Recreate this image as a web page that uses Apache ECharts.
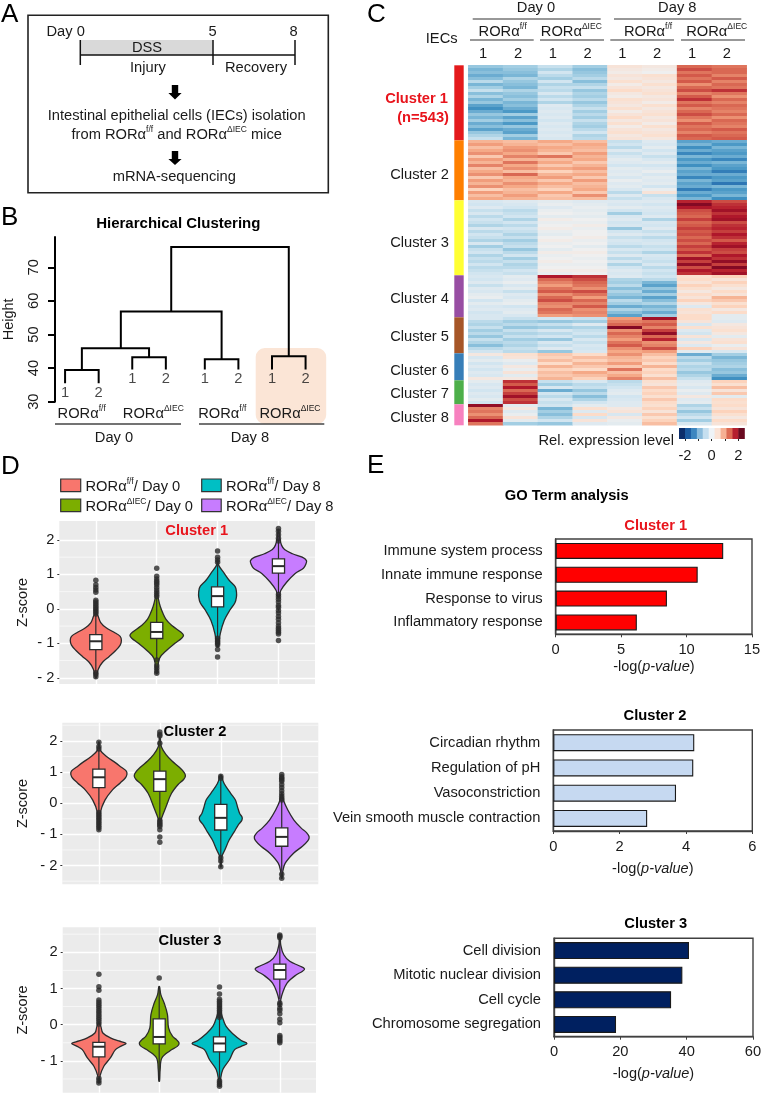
<!DOCTYPE html>
<html><head><meta charset="utf-8">
<style>html,body{margin:0;padding:0;background:#fff}#c{width:762px;height:1094px}</style>
<script src="https://cdn.jsdelivr.net/npm/echarts@6/dist/echarts.min.js"></script>
</head><body><div id="c"></div>
<script>
const FONT='Liberation Sans';
// ---------- Panel B: dendrogram
const yHeightTicks=[30,40,50,60,70];
const leafPos=[0,1,2,3,4.16,5.16,6.16,7.16];
const leafBottom=[35.5,35.5,39.6,39.6,39.6,39.6,39.6,39.6];
const leafNames=['1','2','1','2','1','2','1','2'];
// [xLeft,bottomLeft,xRight,bottomRight,mergeHeight]
const merges=[[0,35.5,1,35.5,39.4],[2,39.6,3,39.6,43.2],[0.5,39.4,2.5,43.2,45.9],[4.16,39.6,5.16,39.6,42.6],
 [1.66,45.9,4.66,42.6,56.8],[6.16,39.6,7.16,39.6,43.5],[3.16,56.8,6.66,43.5,76]];
// ---------- Panel C: heatmap rows (tenths of z-score), read by eye
const sampleLabels=['1','2','1','2','1','2','1','2'];
const cluster1=[[-10,-9,-6,-9,3,2,15,14],[-12,-10,-8,-11,2,1,17,15],[-11,-11,-5,-10,1,0,14,15],[-13,-12,-7,-9,3,4,16,13],[-11,-8,-9,-7,2,3,14,16],
[-7,-10,-5,-11,4,2,16,13],[-12,-11,-8,-8,1,4,12,15],[-9,-12,-6,-6,3,2,15,14],[-6,-8,-7,-10,5,3,17,19],[-11,-10,-4,-8,2,4,13,14],
[-8,-11,-7,-9,1,2,16,12],[-12,-9,-5,-7,4,3,19,15],[-10,-12,-8,-10,3,1,14,13],[-14,-11,-3,-8,2,4,16,15],[-16,-13,-4,-6,4,2,13,14],
[-13,-15,-3,-9,1,3,15,13],[-10,-9,-4,-7,3,4,17,15],[-12,-14,-3,-9,5,2,14,12],[-9,-11,-5,-6,2,3,12,15],[-13,-15,-3,-8,4,1,16,14],
[-11,-10,-4,-9,1,4,14,13],[-14,-13,-3,-7,3,2,15,16],[-10,-14,-4,-5,4,3,13,14],[-8,-9,-3,-8,2,4,16,15],[-6,-12,-4,-7,3,2,15,16]];
const cluster2=[[9,8,10,8,-6,-3,-14,-13],[11,9,8,10,-5,-4,-12,-15],[8,11,10,9,-7,-2,-16,-12],[10,12,9,8,-3,-5,-13,-14],[12,10,7,11,-6,-3,-17,-15],
[7,13,14,9,-4,-6,-12,-13],[11,9,8,10,-2,-4,-15,-17],[9,14,10,7,-3,-2,-13,-12],[13,10,7,9,-5,-5,-16,-14],[8,12,10,11,-2,-3,-12,-15],
[10,8,6,8,-3,-1,-14,-18],[12,15,9,10,-2,-4,-13,-13],[7,10,11,7,-4,-2,-17,-15],[11,9,7,11,-1,-3,-12,-14],[9,12,10,8,-3,-2,-14,-19],
[12,10,8,9,-2,-5,-13,-12],[6,8,6,10,-4,-1,-18,-15],[11,9,10,7,-7,3,-13,-14],[8,11,7,12,-3,-6,-15,-12],[10,9,8,8,-6,-4,-12,-16]];
const cluster3=[[-4,-3,-2,-3,-3,-3,20,17],[-5,-4,-1,-2,-4,-5,24,19],[-3,-5,-3,-1,-2,-3,21,20],[-6,-7,-1,-2,-5,-4,17,22],[-4,-6,0,-1,-9,-5,16,19],
[-7,-5,-2,-2,-4,-3,15,21],[-5,-8,1,0,-3,-8,18,22],[-6,-5,-1,-1,-5,-4,15,17],[-8,-7,0,1,-4,-5,16,19],[-4,-5,1,-1,-10,-3,18,20],
[-7,-6,-1,0,-5,-6,16,18],[-5,-8,-2,0,-3,-4,17,21],[-6,-6,0,1,-6,-7,15,19],[-8,-9,1,-1,-4,-5,17,16],[-4,-7,-1,0,-5,-4,15,20],
[-9,-6,0,-2,-7,-6,18,22],[-6,-10,-2,0,-4,-5,16,18],[-5,-7,1,1,-6,-8,19,17],[-8,-5,-1,0,-3,-4,15,21],[-6,-9,0,-1,-7,-5,22,19],
[-7,-6,1,0,-4,-6,18,23],[-5,-8,-1,-1,-8,-4,23,18],[-7,-7,0,0,-5,-7,17,24],[-6,-5,1,1,-3,-5,21,20],[-5,-6,-1,0,-4,-6,19,22]];
const cluster4=[[-4,-2,21,19,-3,-5,4,6],[-5,-3,15,17,-8,-7,5,3],[-3,-1,13,15,-9,-12,3,6],[-6,-4,11,14,-7,-14,6,4],[-3,-2,14,12,-11,-10,4,2],
[-4,-6,16,17,-8,-13,2,5],[-2,-3,12,14,-10,-9,5,3],[-1,-4,15,11,-12,-14,3,9],[-5,-2,17,15,-7,-11,6,7],[-2,-1,13,13,-9,-8,2,4],
[-4,-5,12,16,-13,-12,-3,6],[-3,-3,15,12,-8,-10,4,2],[-5,-2,14,13,-11,-13,3,5],[-4,-4,11,12,-14,-9,5,-2]];
const cluster5=[[-4,-6,-5,-6,11,22,5,-2],[-7,-9,-10,-9,13,14,3,-3],[-8,-7,-6,-3,15,16,-4,2],[-6,-10,-9,-8,24,13,4,3],[-9,-6,-4,-6,12,18,-3,4],
[-7,-8,-7,-5,15,23,-5,2],[-10,-6,-5,-7,13,15,3,-2],[-6,-9,-10,-4,11,20,-4,3],[-8,-7,-4,-6,14,12,2,4],[-11,-8,-6,-4,16,13,-3,-1],
[-7,-6,-3,-5,12,17,6,3],[-5,-7,-10,-4,10,11,-2,-4]];
const cluster6=[[2,4,7,5,12,8,-13,-9],[-4,3,6,8,9,6,-7,-12],[-2,-1,8,6,8,7,-9,-10],[-5,-3,5,9,11,5,-6,-9],[-3,2,9,7,7,9,-8,-8],
[-5,-1,6,5,14,5,-7,-11],[-3,3,8,10,8,6,-10,-10],[-4,-2,7,8,10,4,-8,-13],[2,2,9,6,13,8,-6,-16]];
const cluster7=[[-2,19,-6,-4,-7,4,-3,6],[-4,16,-9,-7,-6,3,-2,4],[-3,21,-4,-6,-5,7,-4,8],[-5,15,-13,-10,-3,5,-1,3],[-3,18,-5,-7,-2,6,-3,7],
[-4,22,-7,-11,-5,4,2,-2],[-2,17,-4,-8,-4,7,-3,5],[-5,19,-6,-5,-3,5,-2,4]];
const cluster8=[[23,-2,-5,-2,-3,4,-8,5],[13,2,-12,4,2,6,-6,3],[14,-3,-9,-3,3,3,-10,6],[12,-1,-11,5,-4,7,-7,4],[15,3,-8,-4,2,4,-5,2],
[21,-2,-5,3,-1,6,-9,5],[14,-9,-10,-3,-2,8,-4,3]];
const clusterRows=[cluster1,cluster2,cluster3,cluster4,cluster5,cluster6,cluster7,cluster8];
const clusterNames=['Cluster 1','Cluster 2','Cluster 3','Cluster 4','Cluster 5','Cluster 6','Cluster 7','Cluster 8'];
const clusterColors=['#e41a1c','#ff7f00','#ffff33','#984ea3','#a65628','#377eb8','#4daf4a','#f781bf'];
const heatRamp=['#053061','#2166ac','#4393c3','#92c5de','#d1e5f0','#efefef','#fddbc7','#f4a582','#d6604d','#b2182b','#67001f'];
const scaleEdges=[-2.45,-2,-1.56,-1.11,-0.67,-0.22,0.22,0.67,1.11,1.56,2,2.45];
const scaleColors=['#0b2d6b','#1a5aa0','#3d86c0','#8abbdc','#c5dff0','#eef3f7','#fbe3d6','#f6b093','#dd6b53','#b51f2e','#6a0a20'];
// ---------- Panel D: violins. profile = [z, half width]; box = [q1,median,q3]; whisker = [low,high]
const groupColors=['#F8766D','#7CAE00','#00BFC4','#C77CFF'];
const v1Profile=[
 [[-2,0.006],[-1.75,0.04],[-1.55,0.11],[-1.38,0.22],[-1.2,0.33],[-1.05,0.4],[-0.92,0.42],[-0.8,0.4],[-0.68,0.3],[-0.55,0.17],[-0.4,0.08],[-0.2,0.035],[-0.12,0.006]],
 [[-1.88,0.006],[-1.44,0.045],[-1.2,0.165],[-1,0.3],[-0.85,0.41],[-0.77,0.44],[-0.68,0.4],[-0.5,0.26],[-0.3,0.15],[0.06,0.06],[0.35,0.02],[0.5,0.006]],
 [[-1.1,0.011],[-0.72,0.044],[-0.33,0.11],[-0.04,0.2],[0.18,0.285],[0.35,0.31],[0.49,0.31],[0.64,0.29],[0.83,0.19],[1.03,0.11],[1.27,0.016],[1.4,0.006]],
 [[0.35,0.011],[0.54,0.04],[0.78,0.137],[1.03,0.275],[1.18,0.41],[1.3,0.45],[1.4,0.46],[1.5,0.39],[1.6,0.23],[1.72,0.1],[1.85,0.05],[2.05,0.02],[2.3,0.006]]];
const v1Box=[[-1.18,-0.94,-0.75],[-0.86,-0.67,-0.39],[0.06,0.37,0.64],[1.04,1.24,1.45]];
const v1Whisk=[[-1.82,0.1],[-1.45,0.33],[-0.82,1.27],[0.45,2.0]];
const v1Out=[[0.83,0.7,0.62,0.55,0.48,0.25,0.2,0.15,0.1,0.05,0,-0.05,-0.1,-0.15,-1.85,-1.9,-1.97],
 [1.18,0.95,0.87,0.8,0.75,0.7,0.62,0.55,0.48,0.42,0.36,-1.48,-1.65,-1.72,-1.8,-1.87],
 [1.68,1.5,1.42,1.35,-0.85,-0.9,-0.95,-1,-1.05,-1.18,-1.4],
 [2.33,2.25,2.15,2.05,1.97,0.42,0.35,0.28,0.2,0.1,0.05,-0.05,-0.12,-0.22,-0.3,-0.4,-0.5,-0.56,-0.62,-0.68,-0.73,-0.92]];
const v2Profile=[
 [[-0.86,0.006],[-0.28,0.027],[0.1,0.1],[0.42,0.22],[0.65,0.35],[0.8,0.43],[0.92,0.46],[1.03,0.45],[1.15,0.37],[1.3,0.27],[1.48,0.137],[1.7,0.022],[1.96,0.006]],
 [[-0.6,0.006],[-0.49,0.027],[-0.12,0.1],[0.31,0.19],[0.6,0.3],[0.76,0.39],[0.87,0.42],[0.98,0.4],[1.15,0.32],[1.35,0.2],[1.54,0.11],[1.8,0.027],[2.1,0.006]],
 [[-2.04,0.006],[-1.72,0.016],[-1.5,0.066],[-1.18,0.137],[-0.92,0.22],[-0.7,0.285],[-0.55,0.345],[-0.45,0.35],[-0.33,0.31],[-0.12,0.275],[0.1,0.24],[0.31,0.165],[0.63,0.055],[0.9,0.006]],
 [[-2.41,0.006],[-2.2,0.016],[-1.93,0.055],[-1.61,0.19],[-1.38,0.34],[-1.2,0.43],[-1.08,0.45],[-0.95,0.41],[-0.8,0.32],[-0.54,0.2],[-0.22,0.1],[0.1,0.027],[0.3,0.006]]];
const v2Box=[[0.5,0.83,1.09],[0.38,0.77,1.03],[-0.86,-0.47,-0.04],[-1.38,-1.08,-0.79]];
const v2Whisk=[[-0.3,1.72],[-0.5,1.85],[-1.72,0.8],[-2.2,0.1]];
const v2Out=[[1.95,1.82,1.74,-0.3,-0.36,-0.42,-0.48,-0.54,-0.6,-0.66,-0.72,-0.78,-0.85],
 [2.28,2.2,2.15,1.92,-0.55,-0.6,-0.65,-0.7,-0.75,-0.85,-1.08,-1.25],
 [0.86,0.8,-1.75,-1.85,-2.04],
 [0.92,0.85,0.8,0.75,0.7,0.6,0.5,0.4,0.3,0.22,0.15,0.1,-2.28,-2.41]];
const v3Profile=[
 [[-1.61,0.006],[-1.43,0.016],[-1.15,0.082],[-0.92,0.19],[-0.69,0.275],[-0.6,0.36],[-0.52,0.45],[-0.45,0.33],[-0.37,0.2],[-0.23,0.066],[-0.05,0.033],[0.05,0.006]],
 [[-1.56,0.006],[-1.24,0.016],[-0.92,0.044],[-0.72,0.18],[-0.6,0.3],[-0.51,0.33],[-0.42,0.29],[-0.32,0.22],[-0.09,0.155],[0.28,0.137],[0.6,0.082],[0.83,0.027],[1.05,0.006]],
 [[-1.7,0.006],[-1.52,0.016],[-1.24,0.055],[-0.97,0.165],[-0.69,0.25],[-0.6,0.36],[-0.52,0.455],[-0.44,0.36],[-0.28,0.24],[-0.05,0.11],[0.23,0.044],[0.5,0.006]],
 [[0.5,0.006],[0.69,0.016],[0.87,0.044],[1.15,0.12],[1.38,0.275],[1.47,0.37],[1.54,0.41],[1.62,0.33],[1.75,0.165],[1.93,0.066],[2.2,0.016],[2.48,0.006]]];
const v3Box=[[-0.89,-0.61,-0.49],[-0.53,-0.34,0.16],[-0.75,-0.52,-0.34],[1.26,1.51,1.67]];
const v3Whisk=[[-1.4,-0.02],[-1.45,1.05],[-1.5,0.22],[0.7,2.25]];
const v3Out=[[1.39,1.05,0.95,0.68,0.62,0.56,0.5,0.44,0.38,0.32,0.26,0.2,0.14,0.08,0.02,-1.48,-1.55,-1.61],
 [1.29],
 [1.04,0.85,0.7,0.65,0.6,0.55,0.5,0.45,0.4,0.35,0.3,0.25,0.2,-1.55,-1.6,-1.65,-1.7],
 [2.48,2.44,2.4,0.6,0.55,0.45,0.4,0.3,0.15,0.05,-0.3,-0.35,-0.4,-0.45,-0.5]];
const zTicks1=[-2,-1,0,1,2], zTicks2=[-2,-1,0,1,2], zTicks3=[-1,0,1,2];
const zMinor1=[-1.5,-0.5,0.5,1.5], zMinor2=[-2.5,-1.5,-0.5,0.5,1.5,2.5], zMinor3=[-1.5,-0.5,0.5,1.5,2.5];
// ---------- Panel E
const go1Terms=['Immune system process','Innate immune response','Response to virus','Inflammatory response'];
const go1Values=[12.8,10.85,8.5,6.2];
const go2Terms=['Circadian rhythm','Regulation of pH','Vasoconstriction','Vein smooth muscle contraction'];
const go2Values=[4.25,4.22,3.7,2.83];
const go3Terms=['Cell division','Mitotic nuclear division','Cell cycle','Chromosome segregation'];
const go3Values=[40.7,38.7,35.3,18.7];

// ---------- builders
const grid=[],xAxis=[],yAxis=[],series=[],g=[];
const INK='#1a1a1a', FS=14.7;
function T(text,x,y,o){var z=(o&&o.z)||0; var st=Object.assign({text:text,fontFamily:FONT,fontSize:FS,fill:INK,textAlign:'center',textVerticalAlign:'middle'},o||{}); delete st.z;
 return {type:'text',x:x,y:y,z:z,silent:true,style:st};}
const richS={b:{fontSize:FS,fontFamily:FONT,verticalAlign:'bottom',lineHeight:17},s:{fontSize:8.5,fontFamily:FONT,verticalAlign:'top',lineHeight:17}};
function ror(sup,tail){return '{b|RORα}{s|'+sup+'}'+(tail?'{b|'+tail+'}':'');}
function R(sup,x,y,tail,o){return T(ror(sup,tail),x,y,Object.assign({rich:richS},o||{}));}
function L(x1,y1,x2,y2,w,c){return {type:'line',silent:true,shape:{x1:x1,y1:y1,x2:x2,y2:y2},style:{stroke:c||'#111',lineWidth:w||1.5}};}
function Rect(x,y,w,h,fill,extra){return {type:'rect',silent:true,shape:Object.assign({x:x,y:y,width:w,height:h},extra||{}),style:{fill:fill}};}
function Arrow(cx,y0,y1){return {type:'polygon',silent:true,shape:{points:[[cx-3.2,y0],[cx+3.2,y0],[cx+3.2,y0+8],[cx+6.6,y0+8],[cx,y1],[cx-6.6,y0+8],[cx-3.2,y0+8]]},style:{fill:'#000'}};}
function letter(t,x,y){return T(t,x,y,{fontSize:26,textAlign:'left',fill:'#000'});}

// Panel A
g.push(letter('A',1,15));
g.push({type:'rect',silent:true,shape:{x:28,y:15.3,width:300.3,height:177.4},style:{fill:'none',stroke:'#222',lineWidth:1.6}});
g.push(Rect(81,40,131.7,15,'#d9d9d9'));
g.push(L(80.3,55,295,55),L(80.3,40,80.3,65),L(213,40,213,65),L(295,40,295,65));
g.push(T('Day 0',65.7,31.7),T('5',212.7,31.7),T('8',293.7,31.7),T('DSS',147,48.3),T('Injury',148,68),T('Recovery',256,68));
g.push(Arrow(175,85,99.5),Arrow(175,151,165));
g.push(T('Intestinal epithelial cells (IECs) isolation',176.7,116));
g.push(T('{b|from }'+ror('f/f',' and ')+ror('ΔIEC',' mice'),176.7,134,{rich:richS}));
g.push(T('mRNA-sequencing',174.3,176.7));

// Panel B
g.push(letter('B',1,218));
g.push(Rect(255.7,348,70.5,76,'#fbe5d6',{r:9}));
g.push(T('Hierarchical Clustering',178.3,224,{fontWeight:'bold',fontSize:15,fill:'#000'}));
g.push(R('f/f',81.7,412.7),R('ΔIEC',153.3,412.7),R('f/f',222.3,412.7),R('ΔIEC',290,412.7));
g.push(L(55,424,181,424,1.5,'#444'),L(199,424,324.3,424,1.5,'#444'));
g.push(T('Day 0',114,438.3),T('Day 8',250,438.3));
grid.push({left:55,top:237,width:262,height:164.7,outerBoundsMode:'none'});
xAxis.push({gridIndex:0,type:'value',min:-0.3,max:7.5,show:false});
yAxis.push({gridIndex:0,type:'value',min:30,max:79,splitLine:{show:false},
 name:'Height',nameLocation:'middle',nameRotate:90,nameGap:39,nameTextStyle:{fontFamily:FONT,fontSize:14.5,color:INK},
 axisLine:{show:true,onZero:false,lineStyle:{color:'#000',width:2}},
 axisTick:{show:true,length:7,customValues:yHeightTicks,lineStyle:{color:'#000',width:2}},
 axisLabel:{show:true,customValues:yHeightTicks,rotate:90,margin:14,fontFamily:FONT,fontSize:FS,color:INK}});
merges.forEach(function(m){series.push({type:'line',xAxisIndex:0,yAxisIndex:0,symbol:'none',silent:true,animation:false,
 lineStyle:{color:'#000',width:2,join:'miter'},data:[[m[0],m[1]],[m[0],m[4]],[m[2],m[4]],[m[2],m[3]]]});});
series.push({type:'scatter',xAxisIndex:0,yAxisIndex:0,symbolSize:0,silent:true,
 data:leafPos.map(function(x,i){return [x,leafBottom[i],leafNames[i]];}),
 label:{show:true,position:'bottom',distance:2,fontFamily:FONT,fontSize:FS,color:INK,formatter:function(p){return p.value[2];}}});

// Panel C
g.push(letter('C',367,15));
g.push(T('Day 0',536,8),T('Day 8',677.3,8));
g.push(L(472.7,19,600.7,19,1.2,'#333'),L(614,19,741.3,19,1.2,'#333'));
g.push(R('f/f',502.7,31),R('ΔIEC',571.3,31),R('f/f',648,31),R('ΔIEC',716.7,31));
g.push(L(470,40,533.7,40,1.2,'#333'),L(540,40,604,40,1.2,'#333'),L(610.3,40,674,40,1.2,'#333'),L(681,40,745,40,1.2,'#333'));
g.push(T('IECs',441.7,39.3));
const clusterLabelY=[0,174.7,242.7,299.3,336.7,371,394.3,417.7];
clusterNames.forEach(function(n,i){ if(i>0) g.push(T(n,449,clusterLabelY[i],{textAlign:'right'})); });
g.push(T('Cluster 1',448,99.3,{textAlign:'right',fontWeight:'bold',fill:'#e8141c'}),T('(n=543)',449,117.7,{textAlign:'right',fontWeight:'bold',fill:'#e8141c'}));
g.push(T('Rel. expression level',674,441,{textAlign:'right'}));
const allRows=[].concat.apply([],clusterRows);
const heatData=[];
allRows.forEach(function(r,i){r.forEach(function(v,j){heatData.push([j,i,v/10]);});});
grid.push({left:468.3,top:65.3,width:278.4,height:360,outerBoundsMode:'none'});
xAxis.push({gridIndex:1,type:'category',position:'top',data:sampleLabels,axisLine:{show:false},axisTick:{show:false},
 axisLabel:{interval:0,margin:4,fontFamily:FONT,fontSize:FS,color:INK,padding:[0,5,0,0]},splitLine:{show:false}});
yAxis.push({gridIndex:1,type:'category',inverse:true,data:allRows.map(function(r,i){return 'g'+i;}),show:false});
const heatIdx=series.length;
series.push({type:'heatmap',xAxisIndex:1,yAxisIndex:1,data:heatData,silent:true,progressive:0,itemStyle:{borderWidth:0},emphasis:{disabled:true}});
// side bar
grid.push({left:454.3,top:65.3,width:9.4,height:360,outerBoundsMode:'none'});
xAxis.push({gridIndex:2,type:'category',data:['c'],show:false});
yAxis.push({gridIndex:2,type:'value',inverse:true,min:0,max:allRows.length,show:false});
clusterRows.forEach(function(rows,i){series.push({type:'bar',name:clusterNames[i],xAxisIndex:2,yAxisIndex:2,stack:'side',barWidth:'100%',silent:true,
 itemStyle:{color:clusterColors[i]},data:[rows.length]});});
// colour scale
grid.push({left:679,top:428,width:65.3,height:11,outerBoundsMode:'none'});
xAxis.push({gridIndex:3,type:'value',min:-2.45,max:2.45,splitLine:{show:false},axisLine:{show:false},
 axisTick:{show:true,length:2,customValues:[-2,-1,0,1,2],lineStyle:{color:'#222'}},
 axisLabel:{show:true,customValues:[-2,0,2],margin:9,fontFamily:FONT,fontSize:FS,color:INK,hideOverlap:false}});
yAxis.push({gridIndex:3,type:'value',min:0,max:1,show:false});
series.push({type:'custom',xAxisIndex:3,yAxisIndex:3,silent:true,encode:{x:[0,1]},
 data:scaleColors.map(function(c,i){return [scaleEdges[i],scaleEdges[i+1]];}),
 renderItem:function(p,api){var a=api.coord([api.value(0),1]),b=api.coord([api.value(1),0]);
  return {type:'rect',shape:{x:a[0],y:a[1],width:b[0]-a[0]+0.5,height:b[1]-a[1]},style:{fill:scaleColors[p.dataIndex]}};}});

// Panel D
g.push(letter('D',1,466.7));
[[60.7,479,20,12.7,0],[60.7,499,20,12.7,1],[201.7,479,19.5,12.7,2],[201.7,499,19.5,12.7,3]].forEach(function(k){
 g.push({type:'rect',silent:true,shape:{x:k[0],y:k[1],width:k[2],height:k[3]},style:{fill:groupColors[k[4]],stroke:'#333',lineWidth:1.2}});});
g.push(R('f/f',85.5,485.5,'/ Day 0',{textAlign:'left'}),R('ΔIEC',85.5,506,'/ Day 0',{textAlign:'left'}),
 R('f/f',226,485.5,'/ Day 8',{textAlign:'left'}),R('ΔIEC',226,506,'/ Day 8',{textAlign:'left'}));
function violinPanel(gi,box,yr,ticks,minor,profile,boxes,whisk,outs,showX){
 grid.push({left:box[0],top:box[1],width:box[2],height:box[3],show:true,backgroundColor:'#ebebeb',borderWidth:0,outerBoundsMode:'none'});
 xAxis.push({gridIndex:gi,type:'value',min:0.4,max:4.6,axisLine:{show:false},
  axisTick:{show:showX,length:2,customValues:[1,2,3,4],lineStyle:{color:'#444'}},axisLabel:{show:false},
  splitLine:{show:true,lineStyle:{color:'#fff',width:1.4}}});
 yAxis.push({gridIndex:gi,type:'value',min:yr[0],max:yr[1],axisLine:{show:false},
  name:'Z-score',nameLocation:'middle',nameRotate:90,nameGap:box[0]-30,nameTextStyle:{fontFamily:FONT,fontSize:14.5,color:INK},
  axisTick:{show:true,length:2,customValues:ticks,lineStyle:{color:'#333'}},
  axisLabel:{show:true,customValues:ticks,margin:5,fontFamily:FONT,fontSize:FS,color:INK,formatter:function(v){return v<0?'- '+(-v):String(v);}},
  splitLine:{show:true,lineStyle:{color:'#fff',width:1.4}}});
 series.push({type:'custom',xAxisIndex:gi,yAxisIndex:gi,silent:true,z:1,encode:{y:0},data:minor.map(function(v){return [v];}),
  renderItem:function(p,api){var v=api.value(0),a=api.coord([0.4,v]),b=api.coord([4.6,v]);
   return {type:'line',shape:{x1:a[0],y1:a[1],x2:b[0],y2:b[1]},style:{stroke:'#fff',lineWidth:0.6}};}});
 series.push({type:'custom',xAxisIndex:gi,yAxisIndex:gi,silent:true,z:2,encode:{x:0,y:1},
  data:boxes.map(function(b,i){return [i+1,b[1]];}),
  renderItem:function(p,api){
   var i=p.dataIndex,c=i+1,pr=profile[i],b=boxes[i],w=whisk[i],pts=[];
   pr.forEach(function(q){pts.push(api.coord([c+q[1],q[0]]));});
   pr.slice().reverse().forEach(function(q){pts.push(api.coord([c-q[1],q[0]]));});
   var wa=api.coord([c,w[0]]),wb=api.coord([c,w[1]]),tl=api.coord([c-0.1,b[2]]),br=api.coord([c+0.1,b[0]]),ml=api.coord([c-0.1,b[1]]),mr=api.coord([c+0.1,b[1]]);
   return {type:'group',children:[
    {type:'polygon',shape:{points:pts,smooth:0.35},style:{fill:groupColors[i],stroke:'#2b2b2b',lineWidth:1.3}},
    {type:'line',shape:{x1:wa[0],y1:wa[1],x2:wb[0],y2:wb[1]},style:{stroke:'#2b2b2b',lineWidth:1.2}},
    {type:'rect',shape:{x:tl[0],y:tl[1],width:br[0]-tl[0],height:br[1]-tl[1]},style:{fill:'#fff',stroke:'#2b2b2b',lineWidth:1.3}},
    {type:'line',shape:{x1:ml[0],y1:ml[1],x2:mr[0],y2:mr[1]},style:{stroke:'#2b2b2b',lineWidth:2}}]};
  }});
 var pts=[];outs.forEach(function(a,i){a.forEach(function(v){pts.push([i+1,v]);});});
 series.push({type:'scatter',xAxisIndex:gi,yAxisIndex:gi,silent:true,z:3,symbolSize:5.5,itemStyle:{color:'#2b2b2b'},data:pts});
}
violinPanel(4,[59.3,521,255.7,163],[-2.18,2.55],zTicks1,zMinor1,v1Profile,v1Box,v1Whisk,v1Out,true);
violinPanel(5,[62.3,722.7,256,161.6],[-2.6,2.58],zTicks2,zMinor2,v2Profile,v2Box,v2Whisk,v2Out,true);
violinPanel(6,[62.7,927.3,253.3,165.4],[-1.88,2.69],zTicks3,zMinor3,v3Profile,v3Box,v3Whisk,v3Out,false);
g.push(T('Cluster 1',196.7,531,{fontWeight:'bold',fill:'#e8141c',z:50}));
g.push(T('Cluster 2',195,732,{fontWeight:'bold',fill:'#000',z:50}));
g.push(T('Cluster 3',190,941.3,{fontWeight:'bold',fill:'#000',z:50}));

// Panel E
g.push(letter('E',367,465.7));
g.push(T('GO Term analysis',566.7,495.7,{fontWeight:'bold',fill:'#000'}));
g.push(T('Cluster 1',655.7,526,{fontWeight:'bold',fill:'#e8141c'}));
g.push(T('Cluster 2',655,716,{fontWeight:'bold',fill:'#000'}));
g.push(T('Cluster 3',655.7,923.7,{fontWeight:'bold',fill:'#000'}));
function goPanel(gi,box,terms,vals,max,step,color,gap,barH){
 grid.push({left:box[0],top:box[1],width:box[2],height:box[3],show:true,backgroundColor:'#fff',borderColor:'#404040',borderWidth:1.4,outerBoundsMode:'none'});
 xAxis.push({gridIndex:gi,type:'value',min:0,max:max,interval:step,splitLine:{show:false},
  axisLine:{show:true,lineStyle:{color:'#404040',width:1.4}},axisTick:{show:true,length:3,lineStyle:{color:'#404040'}},
  axisLabel:{margin:8,fontFamily:FONT,fontSize:FS,color:INK},
  name:'{a|-log(}{i|p-value}{a|)}',nameLocation:'middle',nameGap:gap,
  nameTextStyle:{rich:{a:{fontFamily:FONT,fontSize:14.5,color:INK},i:{fontFamily:FONT,fontSize:14.5,fontStyle:'italic',color:INK}}}});
 yAxis.push({gridIndex:gi,type:'category',inverse:true,data:terms,axisTick:{show:false},
  axisLine:{show:true,lineStyle:{color:'#404040',width:1.4}},axisLabel:{interval:0,margin:13,fontFamily:FONT,fontSize:FS,color:INK}});
 series.push({type:'bar',xAxisIndex:gi,yAxisIndex:gi,barWidth:barH,silent:true,data:vals,itemStyle:{color:color,borderColor:'#1a1a1a',borderWidth:1.1}});
}
goPanel(7,[555.7,539,196.3,95.3],go1Terms,go1Values,15,5,'#ff0000',25,16);
goPanel(8,[553.3,730,199,101],go2Terms,go2Values,6,2,'#c6d9f1',30,17);
goPanel(9,[554,938.3,199,98.4],go3Terms,go3Values,60,20,'#002060',30,17);

var chart=echarts.init(document.getElementById('c'),null,{renderer:'canvas'});
chart.setOption({animation:false,backgroundColor:'#fff',textStyle:{fontFamily:FONT},grid:grid,xAxis:xAxis,yAxis:yAxis,
 visualMap:{show:false,type:'continuous',seriesIndex:heatIdx,dimension:2,min:-2.6,max:2.6,inRange:{color:heatRamp}},
 graphic:{elements:g},series:series});
</script></body></html>
